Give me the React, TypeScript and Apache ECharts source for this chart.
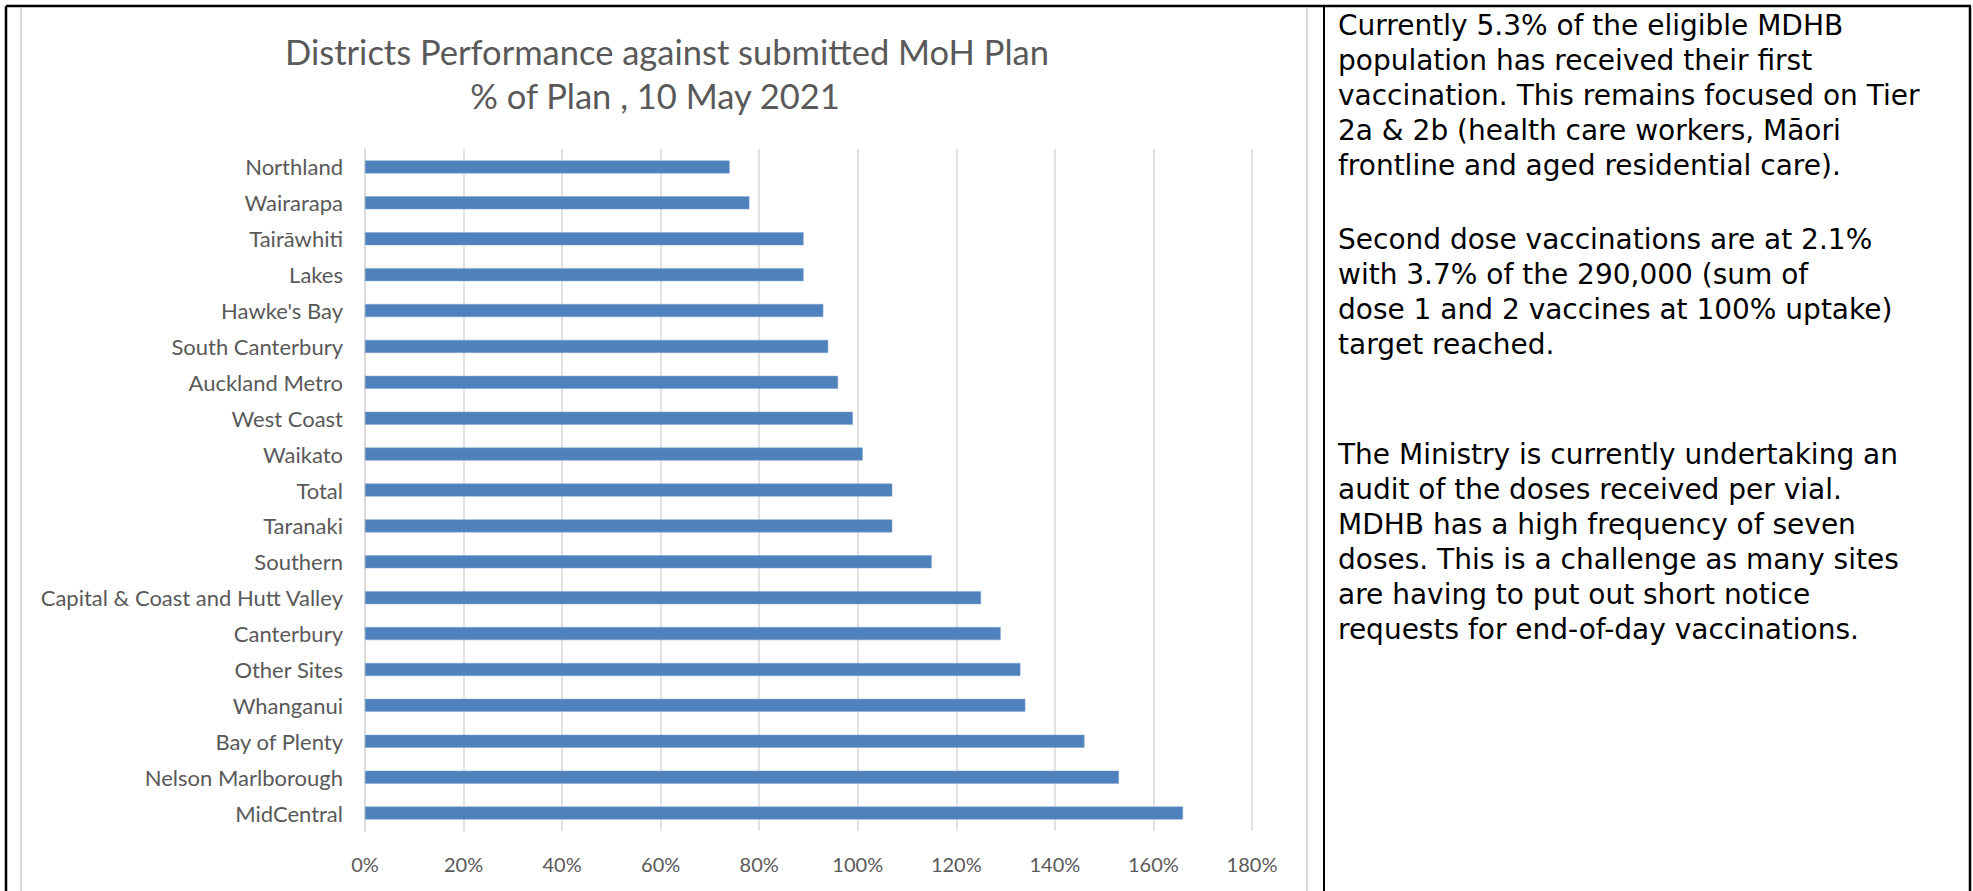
import React, { useEffect, useRef } from "react";
import * as echarts from "echarts";

const categories = [
  "Northland",
  "Wairarapa",
  "Tairāwhiti",
  "Lakes",
  "Hawke's Bay",
  "South Canterbury",
  "Auckland Metro",
  "West Coast",
  "Waikato",
  "Total",
  "Taranaki",
  "Southern",
  "Capital & Coast and Hutt Valley",
  "Canterbury",
  "Other Sites",
  "Whanganui",
  "Bay of Plenty",
  "Nelson Marlborough",
  "MidCentral",
];

const percentOfPlan = [74, 78, 89, 89, 93, 94, 96, 99, 101, 107, 107, 115, 125, 129, 133, 134, 146, 153, 166];

const axisMin = 0;
const axisMax = 180;
const axisStep = 20;

const titleLines = ["Districts Performance against submitted MoH Plan", "% of Plan , 10 May 2021"];

const paragraph1 = [
  "Currently 5.3% of the eligible MDHB",
  "population has received their first",
  "vaccination. This remains focused on Tier",
  "2a & 2b (health care workers, Māori",
  "frontline and aged residential care).",
];
const paragraph2 = [
  "Second dose vaccinations are at 2.1%",
  "with 3.7% of the 290,000 (sum of",
  "dose 1 and 2 vaccines at 100% uptake)",
  "target reached.",
];
const paragraph3 = [
  "The Ministry is currently undertaking an",
  "audit of the doses received per vial.",
  "MDHB has a high frequency of seven",
  "doses. This is a challenge as many sites",
  "are having to put out short notice",
  "requests for end-of-day vaccinations.",
];

export default function App() {
  const ref = useRef<HTMLDivElement>(null);

  useEffect(() => {
    if (!ref.current) return;
    const chart = echarts.init(ref.current, undefined, { renderer: "svg" });
    const chartFont = "Lato";
    const noteFont = "DejaVu Sans";
    const noteSize = 28;
    const noteLH = 35;
    const noteBlock = (lines: string[], center: number) => ({
      text: lines.join("\n"),
      left: 1338,
      top: center - noteLH / 2,
      padding: 0,
      textAlign: "left",
      textStyle: {
        fontFamily: noteFont,
        fontSize: noteSize,
        fontWeight: "normal",
        color: "#000000",
        lineHeight: noteLH,
      },
    });
    const titleSize = 34.5;
    const titleLH = titleSize + 4;
    chart.setOption({
      animation: false,
      backgroundColor: "#ffffff",
      title: [
        {
          text: titleLines[0],
          left: 667,
          top: 51.5 - titleLH / 2,
          padding: 0,
          textAlign: "center",
          textStyle: { fontFamily: chartFont, fontSize: titleSize, fontWeight: "normal", color: "#595959", lineHeight: titleLH },
        },
        {
          text: titleLines[1],
          left: 655,
          top: 95.5 - titleLH / 2,
          padding: 0,
          textAlign: "center",
          textStyle: { fontFamily: chartFont, fontSize: titleSize, fontWeight: "normal", color: "#595959", lineHeight: titleLH },
        },
        noteBlock(paragraph1, 25),
        noteBlock(paragraph2, 239),
        noteBlock(paragraph3, 454),
      ],
      grid: {
        left: 365,
        right: 1973 - 1252,
        top: 149,
        bottom: 891 - 831,
        containLabel: false,
      },
      xAxis: {
        type: "value",
        min: axisMin,
        max: axisMax,
        interval: axisStep,
        axisLine: { show: false },
        axisTick: { show: false },
        splitLine: { show: true, lineStyle: { color: "#d9d9d9", width: 1.5 } },
        axisLabel: {
          formatter: "{value}%",
          color: "#595959",
          fontFamily: chartFont,
          fontSize: 20,
          margin: 23,
        },
      },
      yAxis: {
        type: "category",
        data: categories,
        inverse: true,
        axisLine: { show: true, lineStyle: { color: "#d9d9d9", width: 1.5 } },
        axisTick: { show: false },
        splitLine: { show: false },
        axisLabel: {
          color: "#595959",
          fontFamily: chartFont,
          fontSize: 22,
          margin: 22,
        },
      },
      series: [
        {
          type: "bar",
          data: percentOfPlan,
          barWidth: 13,
          itemStyle: { color: "#4f81bd", borderColor: "#7fa3cf", borderWidth: 0.5 },
        },
      ],
      graphic: [
        { type: "line", shape: { x1: 21, y1: 8, x2: 21, y2: 891 }, style: { stroke: "#d9d9d9", lineWidth: 2 } },
        { type: "line", shape: { x1: 1307, y1: 8, x2: 1307, y2: 891 }, style: { stroke: "#d9d9d9", lineWidth: 2 } },
        { type: "line", shape: { x1: 6, y1: 6, x2: 1971, y2: 6 }, style: { stroke: "#000000", lineWidth: 2.5 } },
        { type: "line", shape: { x1: 6, y1: 6, x2: 6, y2: 891 }, style: { stroke: "#000000", lineWidth: 2.5 } },
        { type: "line", shape: { x1: 1324, y1: 6, x2: 1324, y2: 891 }, style: { stroke: "#000000", lineWidth: 2 } },
        { type: "line", shape: { x1: 1970, y1: 6, x2: 1970, y2: 891 }, style: { stroke: "#000000", lineWidth: 2.5 } },
      ],
    });
    return () => chart.dispose();
  }, []);

  return (
    <div
      ref={ref}
      style={{ position: "absolute", left: 0, top: 0, width: 1973, height: 891, background: "#ffffff" }}
    />
  );
}
